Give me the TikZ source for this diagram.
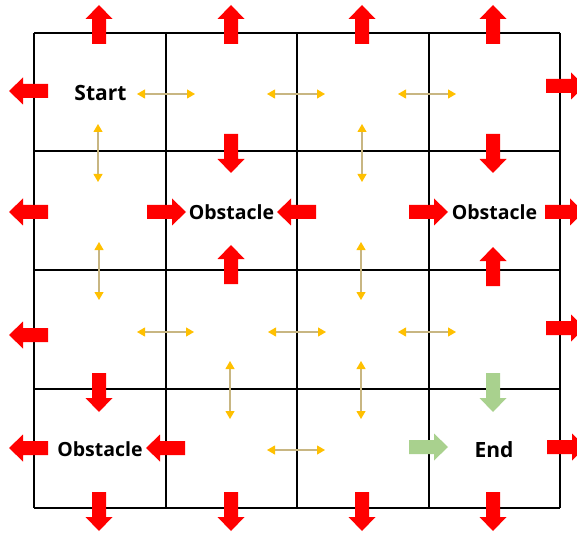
\documentclass[tikz,border=0pt]{standalone}
\usepackage{fontspec}
\setmainfont{Open Sans}
\usetikzlibrary{arrows.meta}
\definecolor{redarrow}{RGB}{255,0,0}
\definecolor{greenarrow}{RGB}{169,209,142}
\definecolor{yellowhead}{RGB}{255,192,0}
\definecolor{tanline}{RGB}{200,182,130}
\tikzset{
  x=1pt, y=-1pt,
  gridline/.style={line width=2pt, black},
  pics/blockarrow/.style={code={
    \fill (0,-7) -- (25,-7) -- (25,-13.5) -- (39,0) -- (25,13.5) -- (25,7) -- (0,7) -- cycle;
  }},
  redblk/.style={fill=redarrow},
  greenblk/.style={fill=greenarrow},
  dbl/.style={line width=1.1pt, tanline,
    {Triangle[length=8pt,width=9pt,color=yellowhead]}-{Triangle[length=8pt,width=9pt,color=yellowhead]}},
  lbl/.style={font=\bfseries\fontsize{21}{24}\selectfont, inner sep=0pt},
  obs/.style={font=\bfseries\fontsize{19.5}{23}\selectfont, inner sep=0pt},
}
\begin{document}
\begin{tikzpicture}
\useasboundingbox (0,0) rectangle (577,534);
% grid
\foreach \gx in {34,165.5,297,428.5,560} \draw[gridline] (\gx,33) -- (\gx,508);
\foreach \gy in {33,151.5,270,389,508} \draw[gridline] (34,\gy) -- (560,\gy);
% labels
\node[lbl] (start) at (100.5,93) {Start};
\node[obs] (obs1) at (231.5,212) {Obstacle};
\node[obs] (obs2) at (494.5,212) {Obstacle};
\node[obs] (obs3) at (100,449) {Obstacle};
\node[lbl] (end) at (494,450) {End};
% red arrows: top
\foreach \ax in {99,231,362,493} \pic[redblk, rotate=90] at (\ax,44) {blockarrow};
% bottom
\foreach \ax in {99,231,362,493} \pic[redblk, rotate=-90] at (\ax,492) {blockarrow};
% left edge
\foreach \ay in {91,212,335,448} \pic[redblk, rotate=180] at (48,\ay) {blockarrow};
% right edge
\pic[redblk] at (546,86) {blockarrow};
\pic[redblk] at (545,212) {blockarrow};
\pic[redblk] at (546,328) {blockarrow};
\pic[redblk] at (547,447) {blockarrow};
% into obstacles
\pic[redblk, rotate=-90] at (231,134) {blockarrow};
\pic[redblk, rotate=-90] at (493,134) {blockarrow};
\pic[redblk] at (147,212) {blockarrow};
\pic[redblk, rotate=180] at (316,212) {blockarrow};
\pic[redblk] at (409,212) {blockarrow};
\pic[redblk, rotate=90] at (231,284) {blockarrow};
\pic[redblk, rotate=90] at (493,286) {blockarrow};
\pic[redblk, rotate=-90] at (99,373) {blockarrow};
\pic[redblk, rotate=180] at (185,448) {blockarrow};
% green arrows into end
\pic[greenblk, rotate=-90] at (493,373) {blockarrow};
\pic[greenblk] at (409,447) {blockarrow};
% yellow double arrows
\draw[dbl] (137,94) -- (195,94);
\draw[dbl] (267,94) -- (325,94);
\draw[dbl] (398,94) -- (456,94);
\draw[dbl] (137,332) -- (194,332);
\draw[dbl] (268,332) -- (326,332);
\draw[dbl] (398,332) -- (456,332);
\draw[dbl] (267,450) -- (325,450);
\draw[dbl] (98,124) -- (98,182);
\draw[dbl] (362,124) -- (362,182);
\draw[dbl] (99,242) -- (99,300);
\draw[dbl] (361,242) -- (361,300);
\draw[dbl] (230,361) -- (230,419);
\draw[dbl] (361,361) -- (361,419);
\end{tikzpicture}
\end{document}
